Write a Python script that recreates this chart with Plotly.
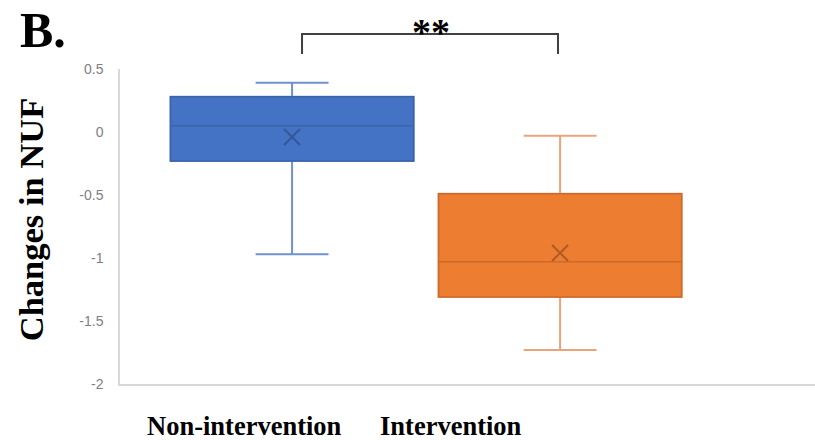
import plotly.graph_objects as go

# ---- data ----
groups = ["Non-intervention", "Intervention"]
q1 = [-0.23, -1.31]
median = [0.05, -1.03]
q3 = [0.28, -0.49]
lower_whisker = [-0.97, -1.73]
upper_whisker = [0.39, -0.03]
means = [-0.04, -0.96]
y_tickvals = [0.5, 0, -0.5, -1, -1.5, -2]
y_ticktext = ["0.5", "0", "-0.5", "-1", "-1.5", "-2"]

fills = ["#4472C4", "#ED7D31"]
whisker_cols = ["#6f92cf", "#e9a47c"]
edge_cols = ["#3b63aa", "#cc6a2a"]
mean_cols = ["#35579a", "#b05a24"]

fig = go.Figure()
for i, g in enumerate(groups):
    # whiskers (lighter line)
    fig.add_trace(go.Box(
        x=[g], q1=[q1[i]], median=[median[i]], q3=[q3[i]],
        lowerfence=[lower_whisker[i]], upperfence=[upper_whisker[i]],
        fillcolor=fills[i], line=dict(color=whisker_cols[i], width=2),
        width=0.907, whiskerwidth=0.3, boxpoints=False, showlegend=False,
        hoverinfo="skip"))
    # box body with darker outline and median
    fig.add_trace(go.Box(
        x=[g], q1=[q1[i]], median=[median[i]], q3=[q3[i]],
        lowerfence=[q1[i]], upperfence=[q3[i]],
        fillcolor=fills[i], line=dict(color=edge_cols[i], width=1.5),
        width=0.907, whiskerwidth=0, boxpoints=False, showlegend=False))
    # mean marker
    fig.add_trace(go.Scatter(
        x=[g], y=[means[i]], mode="markers", showlegend=False,
        marker=dict(symbol="x-thin", size=16,
                    line=dict(color=mean_cols[i], width=2))))

fig.update_layout(
    width=815, height=440,
    margin=dict(l=120, r=0, t=69, b=56),
    paper_bgcolor="white", plot_bgcolor="white",
    boxmode="overlay",
    xaxis=dict(type="category", categoryorder="array", categoryarray=groups,
               range=[-0.642, 1.951], showticklabels=False, ticks="",
               showgrid=False, zeroline=False,
               showline=True, linecolor="#d9d9d9", linewidth=1.5),
    yaxis=dict(range=[-2, 0.5], tickvals=y_tickvals, ticktext=y_ticktext,
               ticks="", showgrid=False, zeroline=False,
               showline=True, linecolor="#d9d9d9", linewidth=1.5,
               ticklabelstandoff=12,
               tickfont=dict(family="Liberation Sans", size=14, color="#808080")),
    font=dict(family="Liberation Serif"),
)

serif_bold = dict(family="Liberation Serif", color="black")
annotations = [
    dict(text="<b>B.</b>", x=-0.147, y=1.124, xanchor="left", yanchor="middle",
         font=dict(size=50, **serif_bold)),
    dict(text="<b>Changes in NUF</b>", textangle=-90, x=-0.128, y=0.52,
         xanchor="center", yanchor="middle", font=dict(size=34.5, **serif_bold)),
    dict(text="<b>Non-intervention</b>", x=0.179, y=-0.132,
         xanchor="center", yanchor="middle", font=dict(size=26.5, **serif_bold)),
    dict(text="<b>Intervention</b>", x=0.476, y=-0.132,
         xanchor="center", yanchor="middle", font=dict(size=26.5, **serif_bold)),
    dict(text="<b>**</b>", x=0.4475, y=1.118, xanchor="center", yanchor="middle",
         font=dict(size=38, **serif_bold)),
]
for a in annotations:
    a.update(xref="paper", yref="paper", showarrow=False)
fig.update_layout(annotations=annotations)

fig.add_shape(type="path", xref="paper", yref="paper",
              path="M 0.2619 1.0476 L 0.2619 1.111 L 0.6302 1.111 L 0.6302 1.0476",
              line=dict(color="#404040", width=2))

fig.write_html("out.html", config={"displayModeBar": False},
               post_script="document.body.style.margin='0';document.body.style.overflow='hidden';")
